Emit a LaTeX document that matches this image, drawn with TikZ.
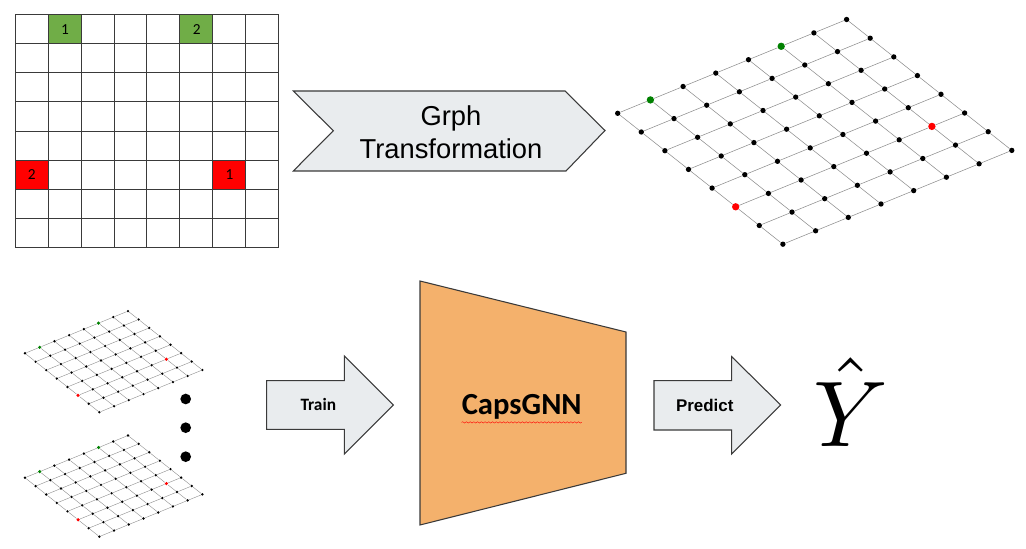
\documentclass[tikz,border=0pt]{standalone}
\usepackage{fontspec}
\setmainfont{Liberation Sans}
\newfontfamily\calibri{Carlito}
\usetikzlibrary{decorations.pathmorphing}

\definecolor{cellgreen}{HTML}{70AD47}
\definecolor{cellred}{HTML}{FF0000}
\definecolor{nodegreen}{HTML}{008000}
\definecolor{boxgrey}{HTML}{E9ECEE}
\definecolor{capsorange}{HTML}{F4B16C}
\definecolor{outline}{HTML}{3A3A3A}
\definecolor{edgegrey}{HTML}{8C8C8C}

% 8x8 grid graph seen at an angle
% #1 name, #2 origin, #3 scale, #4 dot size, #5 coloured dot size, #6 edge width
\newcommand{\gridgraph}[6]{
  \begin{scope}[shift={#2},scale=#3,
                black dot/.style={circle,fill=black,inner sep=0pt,minimum size=#4},
                green dot/.style={circle,fill=nodegreen,inner sep=0pt,minimum size=#5},
                red dot/.style={circle,fill=cellred,inner sep=0pt,minimum size=#5}]
    \foreach \i in {0,...,7} {
      \foreach \j in {0,...,7} {
        \def\dotkind{black dot}
        \ifnum\j=0 \ifnum\i=1 \def\dotkind{green dot}\fi\ifnum\i=5 \def\dotkind{green dot}\fi\fi
        \ifnum\j=5 \ifnum\i=0 \def\dotkind{red dot}\fi\ifnum\i=6 \def\dotkind{red dot}\fi\fi
        \node[\dotkind] (#1-\i-\j) at ({\i*32.7+\j*23.6},{\j*18.7-\i*13.4}) {};
      }
    }
    \foreach \i in {0,...,7} {
      \foreach \j [evaluate=\j as \k using int(\j+1)] in {0,...,6} {
        \draw[draw=edgegrey,line width=#6] (#1-\i-\j) -- (#1-\i-\k);
        \draw[draw=edgegrey,line width=#6] (#1-\j-\i) -- (#1-\k-\i);
      }
    }
  \end{scope}
}

\begin{document}
\begin{tikzpicture}[x=0.75pt,y=-0.75pt,
                    grid cell/.style={rectangle,inner sep=0pt,minimum width=24.7pt,minimum height=21.8pt,
                                      font=\calibri\fontsize{11.5}{12}\selectfont},
                    grid line/.style={draw=outline,line width=0.75pt},
                    box outline/.style={draw=outline,line width=0.8pt,fill=boxgrey,line join=miter},
                    big dot/.style={circle,fill=black,inner sep=0pt,minimum size=8pt}]

  \useasboundingbox (0,0) rectangle (1026,549);

  % the board
  \node[grid cell,fill=cellgreen] (green-one) at (65.1,29.25) {1};
  \node[grid cell,fill=cellgreen] (green-two) at (196.7,29.25) {2};
  \node[grid cell,fill=cellred] (red-two) at (31.75,174.75) {2};
  \node[grid cell,fill=cellred] (red-one) at (229.6,174.75) {1};
  \foreach \k in {0,...,8} {
    \draw[grid line] ({15.3+32.9*\k},14.7) -- ({15.3+32.9*\k},247.7);
    \draw[grid line] (15.3,{14.7+29.1*\k}) -- (278.7,{14.7+29.1*\k});
  }

  % transformation step
  \draw[box outline] (293.3,91) -- (565,91) -- (605,130.5) -- (566,171) -- (293.3,171) -- (333.3,130.7) -- cycle;
  \node[align=center,font=\fontsize{20.5}{24.5}\selectfont] (transform) at (451,132) {Grph\\Transformation};

  % graphs
  \gridgraph{big}{(617.7,113.3)}{1}{4pt}{5.5pt}{0.4pt}
  \gridgraph{first}{(25,353.3)}{0.45}{2pt}{2.6pt}{0.3pt}
  \gridgraph{second}{(25,477.7)}{0.45}{2pt}{2.6pt}{0.3pt}

  \node[big dot] (more-1) at (185.7,399) {};
  \node[big dot] (more-2) at (185.7,427.7) {};
  \node[big dot] (more-3) at (185.7,456.7) {};

  % training
  \draw[box outline] (266.7,380.7) -- (344.3,380.7) -- (344.3,356) -- (393.3,405) -- (344.3,454) -- (344.3,429.3) -- (266.7,429.3) -- cycle;
  \node[font=\calibri\bfseries\fontsize{13}{15}\selectfont] (train) at (318.3,404.5) {Train};

  \draw[draw=outline,line width=0.8pt,fill=capsorange] (420,281) -- (626,332) -- (626,473.3) -- (420,525) -- cycle;
  \node[inner sep=0pt,font=\calibri\bfseries\fontsize{23}{26}\selectfont] (capsgnn) at (521.7,407) {CapsGNN};
  \draw[cellred,line width=0.3pt,decorate,decoration={snake,amplitude=0.5pt,segment length=2.8pt}]
    ([yshift=-2pt]capsgnn.south west) -- ([yshift=-2pt]capsgnn.south east);

  % prediction
  \draw[box outline] (654,380.7) -- (731.7,380.7) -- (731.7,356.7) -- (780.7,405) -- (731.7,454) -- (731.7,430) -- (654,430) -- cycle;
  \node[font=\bfseries\fontsize{12.7}{15}\selectfont] (predict) at (704.7,405.3) {Predict};

  \node[scale=7,anchor=base] (yhat) at (851,446) {$\hat{Y}$};
\end{tikzpicture}
\end{document}
